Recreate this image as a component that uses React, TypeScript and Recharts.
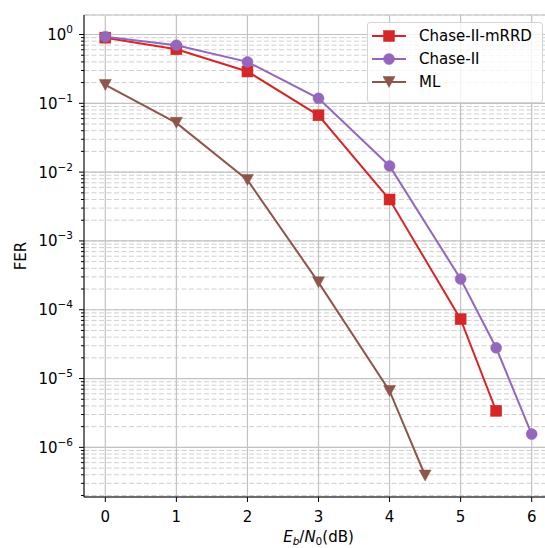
import React from "react";
import { LineChart, Line, XAxis, YAxis, CartesianGrid } from "recharts";

// Eb/N0 (dB) and FER per scheme
const snrMrrd = [0, 1, 2, 3, 4, 5, 5.5];
const ferMrrd = [0.9, 0.61, 0.29, 0.067, 0.004, 7.3e-5, 3.4e-6];

const snrChase = [0, 1, 2, 3, 4, 5, 5.5, 6];
const ferChase = [0.93, 0.7, 0.4, 0.118, 0.0123, 2.8e-4, 2.8e-5, 1.56e-6];

const snrMl = [0, 1, 2, 3, 4, 4.5];
const ferMl = [0.185, 0.052, 0.0077, 2.5e-4, 6.6e-6, 3.9e-7];

const xTicks = [0, 1, 2, 3, 4, 5, 6];
const yExponents = [-7, -6, -5, -4, -3, -2, -1, 0];
const yMinorMultipliers = [2, 3, 4, 5, 6, 7, 8, 9];

const X_DOMAIN = [-0.3, 6.3];
const Y_DOMAIN = [1.9e-7, 1.92];
const FONT = "'DejaVu Sans', sans-serif";
const FS = 15;

const inDomain = (v: number) => v >= Y_DOMAIN[0] && v <= Y_DOMAIN[1];
const yMajorTicks = yExponents.map((e) => Math.pow(10, e)).filter(inDomain);
const yAllTicks = yExponents
    .flatMap((e) => [1, ...yMinorMultipliers].map((m) => m * Math.pow(10, e)))
    .filter(inDomain);

const toPoints = (xs: number[], ys: number[]) => xs.map((snr, i) => ({ snr, fer: ys[i] }));

const series = [
    { name: "Chase-II-mRRD", color: "#d62728", marker: "square", data: toPoints(snrMrrd, ferMrrd) },
    { name: "Chase-II", color: "#9467bd", marker: "circle", data: toPoints(snrChase, ferChase) },
    { name: "ML", color: "#8c564b", marker: "triangle", data: toPoints(snrMl, ferMl) },
];

function Marker({ cx, cy, shape, color }: { cx: number; cy: number; shape: string; color: string }) {
    if (shape === "square") {
        return <rect x={cx - 5.5} y={cy - 5.5} width={11} height={11} fill={color} stroke={color} strokeWidth={0.5} />;
    }
    if (shape === "circle") {
        return <circle cx={cx} cy={cy} r={5.5} fill={color} stroke={color} strokeWidth={0.5} />;
    }
    return (
        <polygon
            points={`${cx - 6},${cy - 5.5} ${cx + 6},${cy - 5.5} ${cx},${cy + 5.5}`}
            fill={color}
            stroke={color}
            strokeWidth={0.5}
        />
    );
}

function YTick(props: any) {
    const { x, y, payload } = props;
    const v = payload.value;
    const e = Math.round(Math.log10(v));
    const major = Math.abs(v / Math.pow(10, e) - 1) < 1e-6;
    return (
        <g>
            <line x1={x - (major ? 5 : 3)} x2={x} y1={y} y2={y} stroke="#000" strokeWidth={1} />
            {major && (
                <text x={x - 11} y={y} dy={5.5} textAnchor="end" fontSize={FS} fill="#000" fontFamily={FONT}>
                    10
                    <tspan dy={-7} fontSize={10.5}>
                        {e < 0 ? "\u2212" + -e : String(e)}
                    </tspan>
                </text>
            )}
        </g>
    );
}

function XLabel(props: any) {
    const { x, y, width } = props.viewBox;
    return (
        <text x={x + width / 2} y={y + 45} textAnchor="middle" fontSize={FS} fill="#000" fontFamily={FONT}>
            <tspan fontStyle="italic">E</tspan>
            <tspan fontStyle="italic" fontSize={10.5} dy={3}>b</tspan>
            <tspan dy={-3}>/</tspan>
            <tspan fontStyle="italic">N</tspan>
            <tspan fontSize={10.5} dy={3}>0</tspan>
            <tspan dy={-3}>(dB)</tspan>
        </text>
    );
}

function YLabel(props: any) {
    const { y, height } = props.viewBox;
    const cx = 21;
    const cy = y + height / 2;
    return (
        <text
            x={cx}
            y={cy}
            transform={`rotate(-90, ${cx}, ${cy})`}
            textAnchor="middle"
            dominantBaseline="central"
            fontSize={FS}
            fill="#000"
            fontFamily={FONT}
        >
            FER
        </text>
    );
}

function LegendBox() {
    return (
        <div
            style={{
                position: "absolute",
                left: 367,
                top: 22,
                width: 176,
                height: 81,
                boxSizing: "border-box",
                border: "1px solid #d4d4d4",
                borderRadius: 3,
                background: "rgba(255,255,255,0.8)",
                paddingTop: 1,
                fontFamily: FONT,
                fontSize: FS,
                color: "#000",
            }}
        >
            {series.map((s) => (
                <div key={s.name} style={{ display: "flex", alignItems: "center", height: 23 }}>
                    <svg width={34} height={14} style={{ marginLeft: 4, marginRight: 13 }}>
                        <line x1={0} x2={34} y1={7} y2={7} stroke={s.color} strokeWidth={2} />
                        <Marker cx={17} cy={7} shape={s.marker} color={s.color} />
                    </svg>
                    <span>{s.name}</span>
                </div>
            ))}
        </div>
    );
}

export default function App() {
    return (
        <div style={{ position: "absolute", left: 0, top: 0, width: 545, height: 548, overflow: "hidden", background: "#fff" }}>
            <LineChart width={560} height={548} margin={{ top: 15, right: 7, bottom: 0, left: 0 }}>
                <XAxis
                    xAxisId="x"
                    dataKey="snr"
                    type="number"
                    domain={X_DOMAIN}
                    ticks={xTicks}
                    allowDataOverflow
                    height={51}
                    tickSize={5}
                    tickMargin={9}
                    tick={{ fill: "#000", fontSize: FS, fontFamily: FONT }}
                    tickLine={{ stroke: "#000" }}
                    axisLine={{ stroke: "#000" }}
                    label={(p: any) => <XLabel {...p} />}
                />
                <XAxis
                    xAxisId="top"
                    orientation="top"
                    type="number"
                    domain={X_DOMAIN}
                    height={0}
                    tick={false}
                    tickLine={false}
                    axisLine={{ stroke: "#000" }}
                />
                <YAxis
                    yAxisId="all"
                    scale="log"
                    type="number"
                    domain={Y_DOMAIN}
                    ticks={yAllTicks}
                    allowDataOverflow
                    width={84}
                    tickSize={0}
                    tickMargin={0}
                    tickLine={false}
                    tick={<YTick />}
                    interval={0}
                    axisLine={{ stroke: "#000" }}
                    label={(p: any) => <YLabel {...p} />}
                />
                <YAxis yAxisId="major" scale="log" type="number" domain={Y_DOMAIN} ticks={yMajorTicks} allowDataOverflow hide />
                <YAxis
                    yAxisId="right"
                    orientation="right"
                    scale="log"
                    type="number"
                    domain={Y_DOMAIN}
                    allowDataOverflow
                    width={0}
                    tick={false}
                    tickLine={false}
                    axisLine={{ stroke: "#000" }}
                />
                <CartesianGrid xAxisId="x" yAxisId="all" vertical={false} stroke="#cfcfcf" strokeDasharray="5 2.5" strokeWidth={1} />
                <CartesianGrid xAxisId="x" yAxisId="major" stroke="#c2c2c2" strokeWidth={1.2} />
                {series.map((s) => (
                    <Line
                        key={s.name}
                        name={s.name}
                        data={s.data}
                        dataKey="fer"
                        xAxisId="x"
                        yAxisId="all"
                        stroke={s.color}
                        strokeWidth={2}
                        dot={(p: any) => <Marker key={`${s.name}-${p.index}`} cx={p.cx} cy={p.cy} shape={s.marker} color={s.color} />}
                        activeDot={false}
                        isAnimationActive={false}
                    />
                ))}
            </LineChart>
            <LegendBox />
        </div>
    );
}
